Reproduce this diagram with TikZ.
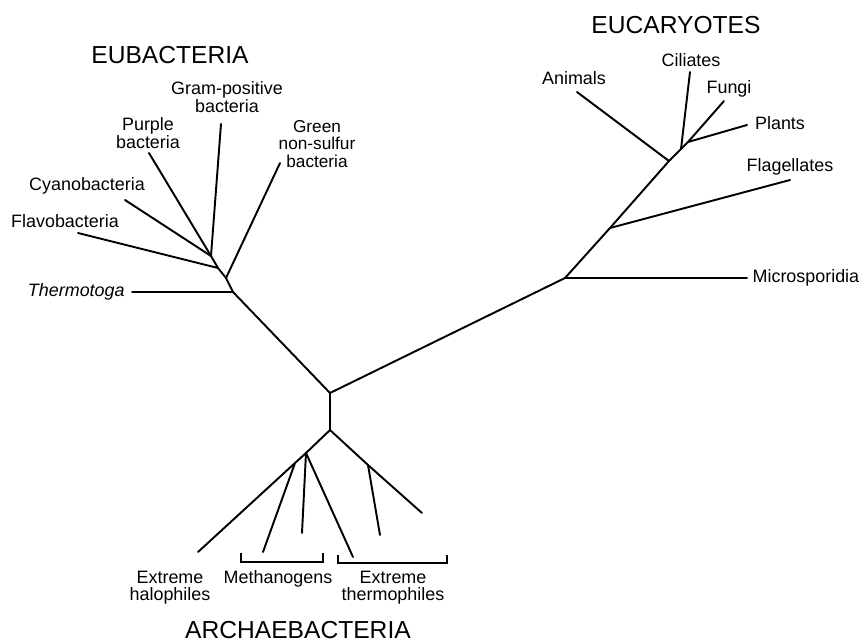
\documentclass[tikz,border=0pt]{standalone}
\usepackage{fontspec}
\setmainfont{Liberation Sans}
\usetikzlibrary{positioning}
\begin{document}
\begin{tikzpicture}[
  x=0.02cm, y=-0.02cm,
  branch/.style={line width=1.1pt, line cap=round},
  bracket/.style={line width=1.1pt},
  taxon/.style={font=\fontsize{10.2}{9.8}\selectfont, align=center, inner sep=1pt},
  kingdom/.style={font=\fontsize{14}{16}\selectfont, inner sep=0pt}
]
\useasboundingbox (0,0) rectangle (865,642);
% junctions
\coordinate (root) at (330,393);
\coordinate (arc) at (330,430);
\coordinate (euT) at (233,292);
\coordinate (euG) at (226,278);
\coordinate (euF) at (218,268);
\coordinate (euC) at (211,256);
\coordinate (eM) at (565,278);
\coordinate (eFl) at (610,228);
\coordinate (eA) at (669,161);
\coordinate (eCi) at (681,149);
\coordinate (eFP) at (688,142);
\coordinate (aL) at (306,453);
\coordinate (aL2) at (295,463);
\coordinate (aR) at (368,465);
% tips
\coordinate (purpletip) at (149,153);
\coordinate (gramtip) at (221,124);
\coordinate (cyanotip) at (125,200);
\coordinate (flavotip) at (78,233);
\coordinate (greentip) at (280,163);
\coordinate (thermotip) at (132,292);
\coordinate (microtip) at (747,278);
\coordinate (flagtip) at (790,180);
\coordinate (animaltip) at (577,92);
\coordinate (ciliatetip) at (690,72);
\coordinate (fungitip) at (724,101);
\coordinate (plantstip) at (747,125);
\coordinate (halotip) at (198,552);
\coordinate (methAtip) at (263,552);
\coordinate (methBtip) at (302,533);
\coordinate (thermAtip) at (353,557);
\coordinate (thermBtip) at (380,535);
\coordinate (thermCtip) at (422,513);
% labels
\node[kingdom] (eubac) at (170,55) {EUBACTERIA};
\node[kingdom] (eucar) at (676,25) {EUCARYOTES};
\node[kingdom] (archae) at (298,630) {ARCHAEBACTERIA};
\node[taxon] (gram) at (227,97) {Gram-positive\\bacteria};
\node[taxon] (purple) at (148,133) {Purple\\bacteria};
\node[taxon, font=\fontsize{9.8}{9.8}\selectfont] (green) at (317,144) {Green\\non-sulfur\\bacteria};
\node[taxon] (cyano) at (87,186) {Cyanobacteria};
\node[taxon] (flavo) at (65,221) {Flavobacteria};
\node[taxon, left=3pt of thermotip] (thermo) {\itshape Thermotoga};
\node[taxon] (animal) at (574,78) {Animals};
\node[taxon] (ciliate) at (691,60) {Ciliates};
\node[taxon] (fungi) at (729,89) {Fungi};
\node[taxon] (plants) at (780,123) {Plants};
\node[taxon] (flag) at (790,167) {Flagellates};
\node[taxon, right=2pt of microtip] (micro) {Microsporidia};
\node[taxon] (halo) at (170,588) {Extreme\\halophiles};
\node[taxon] (meth) at (278,579) {Methanogens};
\node[taxon] (thermoph) at (393,588) {Extreme\\thermophiles};
% eubacteria
\draw[branch] (root) -- (euT) -- (euG) -- (euF) -- (euC) -- (purpletip);
\draw[branch] (euT) -- (thermotip);
\draw[branch] (euG) -- (greentip);
\draw[branch] (euF) -- (flavotip);
\draw[branch] (euC) -- (cyanotip);
\draw[branch] (euC) -- (gramtip);
% eucaryotes
\draw[branch] (root) -- (eM) -- (eFl) -- (eA) -- (eCi) -- (eFP);
\draw[branch] (eM) -- (microtip);
\draw[branch] (eFl) -- (flagtip);
\draw[branch] (eA) -- (animaltip);
\draw[branch] (eCi) -- (ciliatetip);
\draw[branch] (eFP) -- (fungitip);
\draw[branch] (eFP) -- (plantstip);
% archaebacteria
\draw[branch] (root) -- (arc);
\draw[branch] (arc) -- (aL) -- (aL2) -- (halotip);
\draw[branch] (aL2) -- (methAtip);
\draw[branch] (aL) -- (methBtip);
\draw[branch] (aL) -- (thermAtip);
\draw[branch] (arc) -- (aR) -- (thermCtip);
\draw[branch] (aR) -- (thermBtip);
\draw[bracket] (241,553) -- (241,562) -- (323,562) -- (323,553);
\draw[bracket] (338,555) -- (338,563) -- (447,563) -- (447,555);
\end{tikzpicture}
\end{document}
